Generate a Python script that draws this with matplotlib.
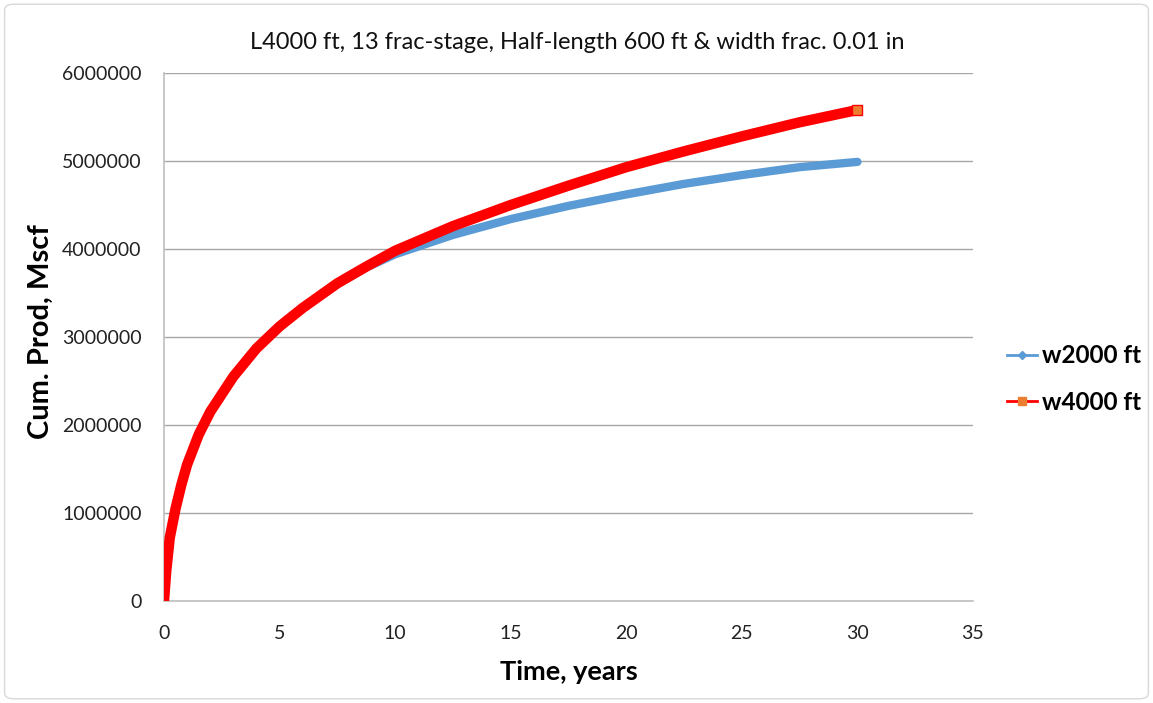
'''
cumulative production chart, two well spacings
'''
import matplotlib
matplotlib.use('Agg')
import matplotlib.pyplot as plt
from matplotlib.lines import Line2D
from matplotlib.patches import FancyBboxPatch
from matplotlib.ticker import FuncFormatter

# time in years and cumulative production in Mscf
time_years = [0, 0.1, 0.25, 0.5, 0.75, 1, 1.5, 2, 3, 4, 5, 6, 7.5, 8.75,
              10, 12.5, 15, 17.5, 20, 22.5, 25, 27.5, 30]
w2000 = [0, 350000, 720000, 1050000, 1320000, 1550000, 1890000, 2150000,
         2550000, 2870000, 3120000, 3330000, 3600000, 3790000, 3940000,
         4160000, 4340000, 4490000, 4620000, 4740000, 4840000, 4930000,
         4990000]
w4000 = [0, 350000, 720000, 1050000, 1320000, 1550000, 1890000, 2150000,
         2550000, 2870000, 3120000, 3330000, 3610000, 3800000, 3980000,
         4260000, 4500000, 4720000, 4930000, 5110000, 5280000, 5440000,
         5580000]
series_names = ['w2000 ft', 'w4000 ft']
x_ticks = [0, 5, 10, 15, 20, 25, 30, 35]
y_ticks = [0, 1000000, 2000000, 3000000, 4000000, 5000000, 6000000]

blue = '#5B9BD5'
red = '#FF0000'
orange = '#ED7D31'
font = ['Lato', 'DejaVu Sans']

plt.rcParams['font.family'] = font

fig = plt.figure(figsize=(11.53, 7.03), dpi=100)
ax = fig.add_axes([164 / 1153, 1 - 601 / 703, (973 - 164) / 1153, (601 - 73) / 703])

ax.plot(time_years, w2000, color=blue, lw=6, solid_capstyle='round',
        solid_joinstyle='round', zorder=3)
ax.plot(time_years, w4000, color=red, lw=7.5, solid_capstyle='butt',
        solid_joinstyle='round', zorder=4)
ax.plot(time_years[-1:], w4000[-1:], ls='none', marker='s', ms=7,
        mfc=orange, mec=red, mew=1, zorder=5)

ax.set_xlim(0, 35)
ax.set_ylim(0, 6000000)
ax.set_xticks(x_ticks)
ax.set_yticks(y_ticks)
ax.yaxis.set_major_formatter(FuncFormatter(lambda v, p: '%d' % v))
ax.tick_params(length=0, labelsize=14, colors='#222222')
ax.tick_params(axis='x', pad=17)
ax.tick_params(axis='y', pad=16)

ax.grid(axis='y', color='#A6A6A6', lw=1)
ax.set_axisbelow(True)
for s in ['top', 'right']:
    ax.spines[s].set_visible(False)
for s in ['left', 'bottom']:
    ax.spines[s].set_color('#BFBFBF')
    ax.spines[s].set_linewidth(1.2)

ax.set_xlabel('Time, years', fontsize=19.5, fontweight='bold', labelpad=13)
ax.set_ylabel('Cum. Prod, Mscf', fontsize=21, fontweight='bold')
ax.yaxis.set_label_coords(-0.136, 0.51)
ax.set_title('L4000 ft, 13 frac-stage, Half-length 600 ft & width frac. 0.01 in',
             fontsize=17, pad=17, color='#111111', x=0.511)

handles = [
    Line2D([], [], color=blue, lw=2, marker='D', ms=4, mfc=blue, mec=blue),
    Line2D([], [], color=red, lw=2, marker='s', ms=6, mfc=orange, mec=orange),
]
fig.legend(handles, series_names, loc='center left',
           bbox_to_anchor=(1007 / 1153, 1 - 379 / 703), frameon=False,
           prop={'size': 17.5, 'weight': 'bold'}, handlelength=1.25,
           handletextpad=0.2, labelspacing=0.95, borderpad=0, borderaxespad=0)

fig.patches.append(FancyBboxPatch((0.004, 0.006), 0.992, 0.988,
                                  boxstyle='round,pad=0,rounding_size=0.008',
                                  transform=fig.transFigure, fill=False,
                                  edgecolor='#D9D9D9', lw=1))

fig.savefig('out.png', dpi=100)
